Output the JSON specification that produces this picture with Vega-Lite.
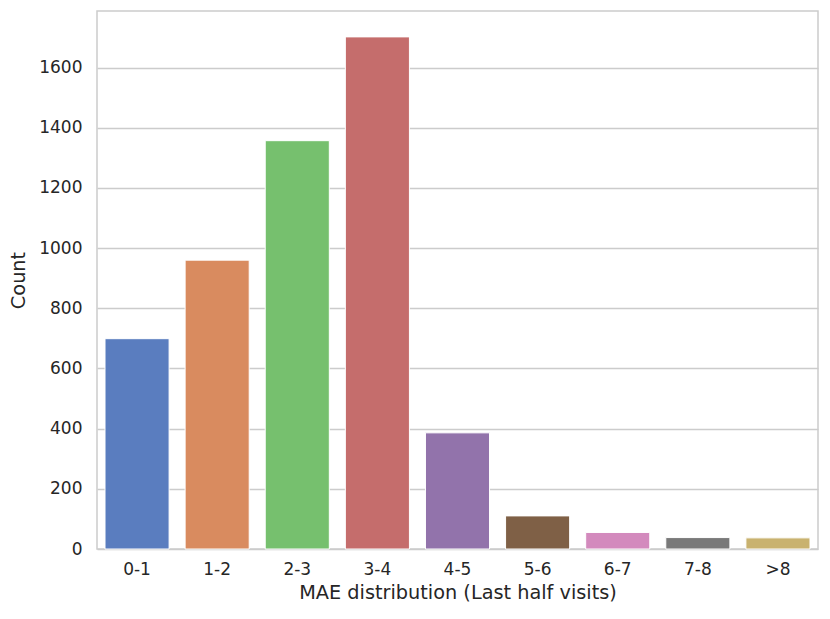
{
  "$schema": "https://vega.github.io/schema/vega-lite/v6.json",
  "width": 721,
  "height": 538,
  "autosize": "none",
  "padding": {"left": 97, "top": 11, "right": 12, "bottom": 70},
  "background": "white",
  "config": {
    "font": "DejaVu Sans",
    "view": {"stroke": "#cccccc", "strokeWidth": 1.5},
    "axis": {
      "labelFont": "DejaVu Sans",
      "titleFont": "DejaVu Sans",
      "labelColor": "#262626",
      "titleColor": "#262626",
      "labelFontSize": 17,
      "titleFontSize": 19.3,
      "titleFontWeight": "normal",
      "ticks": false,
      "domain": false,
      "gridColor": "#cccccc",
      "gridWidth": 1.3
    }
  },
  "data": {
    "values": [
      {"bin": "0-1", "count": 699},
      {"bin": "1-2", "count": 960},
      {"bin": "2-3", "count": 1357},
      {"bin": "3-4", "count": 1702},
      {"bin": "4-5", "count": 386},
      {"bin": "5-6", "count": 110},
      {"bin": "6-7", "count": 55},
      {"bin": "7-8", "count": 38},
      {"bin": ">8", "count": 37}
    ]
  },
  "mark": {"type": "bar", "stroke": "white", "strokeWidth": 1},
  "encoding": {
    "x": {
      "field": "bin",
      "type": "nominal",
      "sort": null,
      "title": "MAE distribution (Last half visits)",
      "scale": {"paddingInner": 0.2, "paddingOuter": 0.1},
      "axis": {"labelAngle": 0, "grid": false, "labelPadding": 12, "titlePadding": 6}
    },
    "y": {
      "field": "count",
      "type": "quantitative",
      "title": "Count",
      "scale": {"domain": [0, 1788], "nice": false},
      "axis": {"values": [0, 200, 400, 600, 800, 1000, 1200, 1400, 1600], "format": "d", "labelPadding": 15, "titlePadding": 10}
    },
    "color": {
      "field": "bin",
      "type": "nominal",
      "sort": null,
      "legend": null,
      "scale": {
        "domain": ["0-1", "1-2", "2-3", "3-4", "4-5", "5-6", "6-7", "7-8", ">8"],
        "range": ["#5a7dbf", "#d98b5f", "#76c06e", "#c56d6c", "#9273ab", "#7f6046", "#d38abd", "#797979", "#c9b26f"]
      }
    }
  }
}
